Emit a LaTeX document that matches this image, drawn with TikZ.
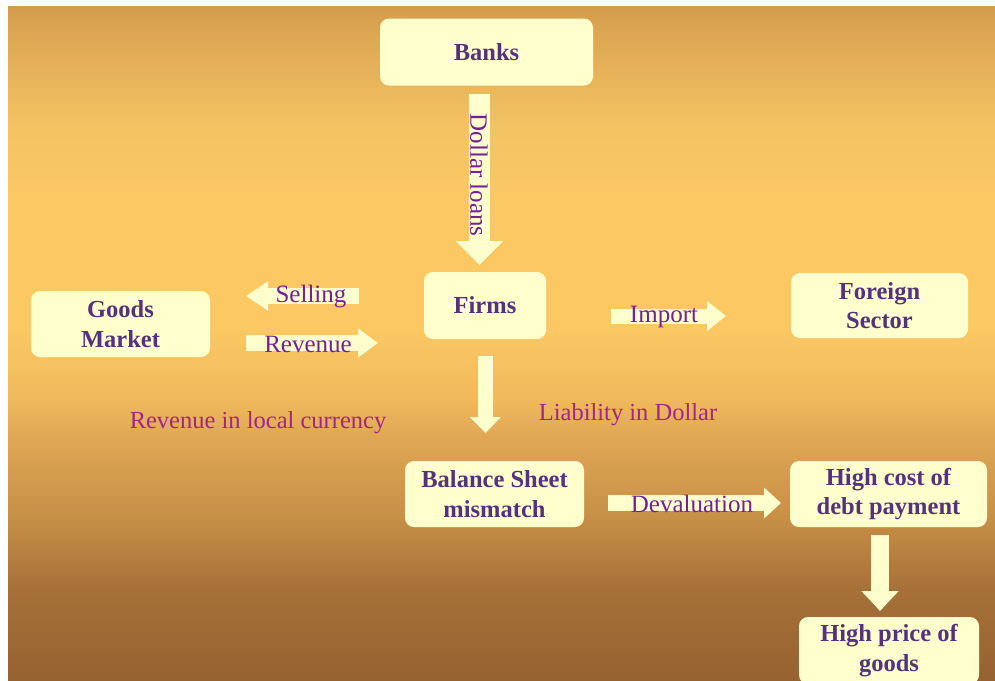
\documentclass[tikz,border=0pt]{standalone}
\usepackage{fontspec}
\setmainfont{Liberation Serif}
\usetikzlibrary{arrows.meta}
\definecolor{cream}{RGB}{255,255,206}
\definecolor{boxtext}{RGB}{85,50,125}
\definecolor{arrowtext}{RGB}{115,32,155}
\definecolor{captext}{RGB}{160,38,138}
\definecolor{bgA}{RGB}{212,157,78}
\definecolor{bgB}{RGB}{228,175,88}
\definecolor{bgC}{RGB}{245,195,98}
\definecolor{bgD}{RGB}{251,200,100}
\definecolor{bgE}{RGB}{251,200,100}
\definecolor{bgF}{RGB}{240,185,92}
\definecolor{bgG}{RGB}{222,166,84}
\definecolor{bgH}{RGB}{198,143,70}
\definecolor{bgI}{RGB}{166,112,56}
\definecolor{bgJ}{RGB}{150,98,48}
\pgfdeclareverticalshading{bgshade}{100bp}{color(0bp)=(bgJ); color(25bp)=(bgJ); color(31.7bp)=(bgI); color(36.9bp)=(bgH); color(42.8bp)=(bgG); color(45.8bp)=(bgF); color(51bp)=(bgE); color(60.6bp)=(bgD); color(65.8bp)=(bgC); color(71bp)=(bgB); color(75bp)=(bgA); color(100bp)=(bgA)}
\tikzset{
  box/.style={fill=cream, draw=none, rounded corners=9pt, inner sep=0pt, align=center,
    text=boxtext, font=\bfseries\fontsize{24.5}{29.5}\selectfont},
  fatarrow/.style n args={3}{draw=cream, line width=#1, -{Triangle[width=#2,length=#3]}},
  arrowlabel/.style={text=arrowtext, inner sep=0pt, font=\fontsize{25}{30}\selectfont},
  caption/.style={text=captext, inner sep=0pt, font=\fontsize{24.5}{29}\selectfont}
}
\begin{document}
\begin{tikzpicture}[x=1pt,y=-1pt]
\useasboundingbox (0,0) rectangle (995,680);
\clip (0,0) rectangle (995,680);
\fill[white] (0,0) rectangle (995,680);
\shade[shading=bgshade] (8,6) rectangle (995,680);

% boxes
\node[box, minimum width=213pt, minimum height=67pt] (banks) at (486.5,52) {Banks};
\node[box, minimum width=122pt, minimum height=67pt] (firms) at (485,305.5) {Firms};
\node[box, minimum width=179pt, minimum height=66pt] (goods) at (120.5,324) {Goods\\Market};
\node[box, minimum width=177pt, minimum height=65pt] (foreign) at (879.5,305.5) {Foreign\\Sector};
\node[box, minimum width=179pt, minimum height=66pt] (balance) at (494.5,494) {Balance Sheet\\mismatch};
\node[box, minimum width=197pt, minimum height=66pt] (highcost) at (888.5,494) {High cost of\\debt payment};
\node[box, minimum width=180pt, minimum height=67pt] (highprice) at (889,650.5) {High price of\\goods};

% arrow end points
\coordinate (dlA) at (479.5,94);   \coordinate (dlB) at (479.5,265);
\coordinate (selA) at (359,296);   \coordinate (selB) at (246,296);
\coordinate (revA) at (246,343);   \coordinate (revB) at (378,343);
\coordinate (liaA) at (485.5,356); \coordinate (liaB) at (485.5,433);
\coordinate (impA) at (611,316);   \coordinate (impB) at (726,316);
\coordinate (devA) at (608,503);   \coordinate (devB) at (781,503);
\coordinate (hcA) at (880,535);    \coordinate (hcB) at (880,611);

% block arrows
\draw[fatarrow={21pt}{46pt}{24pt}] (dlA) -- (dlB);
\draw[fatarrow={16pt}{28pt}{22pt}] (selA) -- (selB);
\draw[fatarrow={16pt}{28pt}{20pt}] (revA) -- (revB);
\draw[fatarrow={15pt}{30pt}{16pt}] (liaA) -- (liaB);
\draw[fatarrow={15pt}{29pt}{19pt}] (impA) -- (impB);
\draw[fatarrow={16pt}{30pt}{17pt}] (devA) -- (devB);
\draw[fatarrow={18pt}{36pt}{20pt}] (hcA) -- (hcB);

% labels
\node[arrowlabel, rotate=-90] (ldollar) at (479,175) {Dollar loans};
\node[arrowlabel] (lselling) at (311,297) {Selling};
\node[arrowlabel] (lrevenue) at (308,344) {Revenue};
\node[arrowlabel] (limport) at (664,317) {Import};
\node[arrowlabel] (ldeval) at (692,504) {Devaluation};
\node[caption] (lliab) at (628,415) {Liability in Dollar};
\node[caption] (lrevlocal) at (258,423) {Revenue in local currency};
\end{tikzpicture}
\end{document}
